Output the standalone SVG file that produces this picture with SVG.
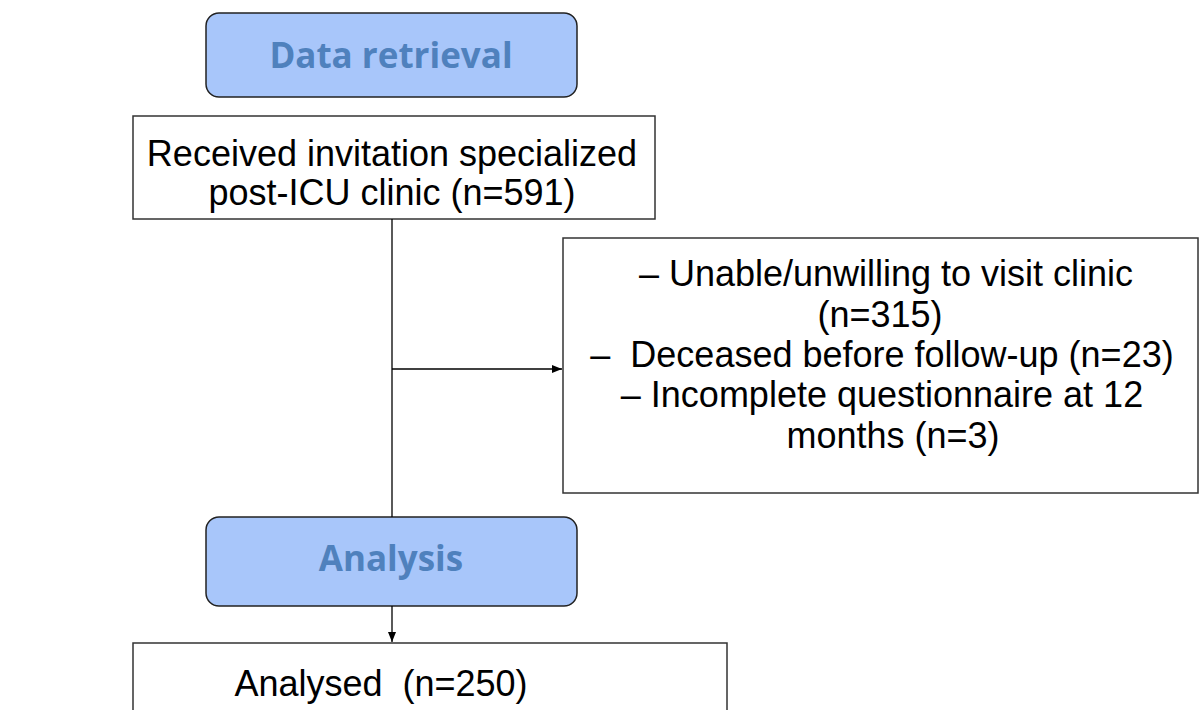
<svg xmlns="http://www.w3.org/2000/svg" width="1204" height="710" viewBox="0 0 1204 710">
<defs>
<marker id="arr" markerWidth="10" markerHeight="8" refX="10" refY="4" orient="auto" markerUnits="userSpaceOnUse">
<path d="M0,0 L10,4 L0,8 Z" fill="#000"/>
</marker>
<style>
.phase{fill:#a8c6fa;stroke:#222;stroke-width:1.5}
.phaset{font-family:"Open Sans","Liberation Sans",sans-serif;font-weight:bold;font-size:35px;fill:#4f81bd;text-anchor:middle}
.box{fill:#fff;stroke:#333;stroke-width:1.5}
.t{font-family:"Liberation Sans",Arial,sans-serif;font-size:36px;fill:#000;text-anchor:middle}
.line{stroke:#000;stroke-width:1.3;fill:none}
</style>
</defs>
<rect width="1204" height="710" fill="#fff"/>
<g id="data-retrieval">
<rect class="phase" x="206" y="13" width="371" height="84" rx="13"/>
<text class="phaset" x="391" y="68">Data retrieval</text>
</g>
<g id="received">
<rect class="box" x="133" y="116" width="522" height="103"/>
<text class="t" x="392" y="166">Received invitation specialized</text>
<text class="t" x="392" y="205">post-ICU clinic (n=591)</text>
</g>
<g id="excluded">
<rect class="box" x="563" y="238" width="635" height="255"/>
<text class="t" x="886" y="286">– Unable/unwilling to visit clinic</text>
<text class="t" x="880" y="327">(n=315)</text>
<text class="t" x="882" y="367" xml:space="preserve">–  Deceased before follow-up (n=23)</text>
<text class="t" x="882" y="407">– Incomplete questionnaire at 12</text>
<text class="t" x="893" y="448">months (n=3)</text>
</g>
<g id="analysis">
<rect class="phase" x="206" y="517" width="371" height="89" rx="13"/>
<text class="phaset" x="391" y="571">Analysis</text>
</g>
<g id="analysed">
<rect class="box" x="133" y="643" width="594" height="80"/>
<text class="t" x="381" y="696" xml:space="preserve">Analysed  (n=250)</text>
</g>
<g id="connectors">
<line class="line" x1="392" y1="219" x2="392" y2="517"/>
<line class="line" x1="392" y1="369" x2="562" y2="369" marker-end="url(#arr)"/>
<line class="line" x1="392" y1="606" x2="392" y2="642" marker-end="url(#arr)"/>
</g>
</svg>
